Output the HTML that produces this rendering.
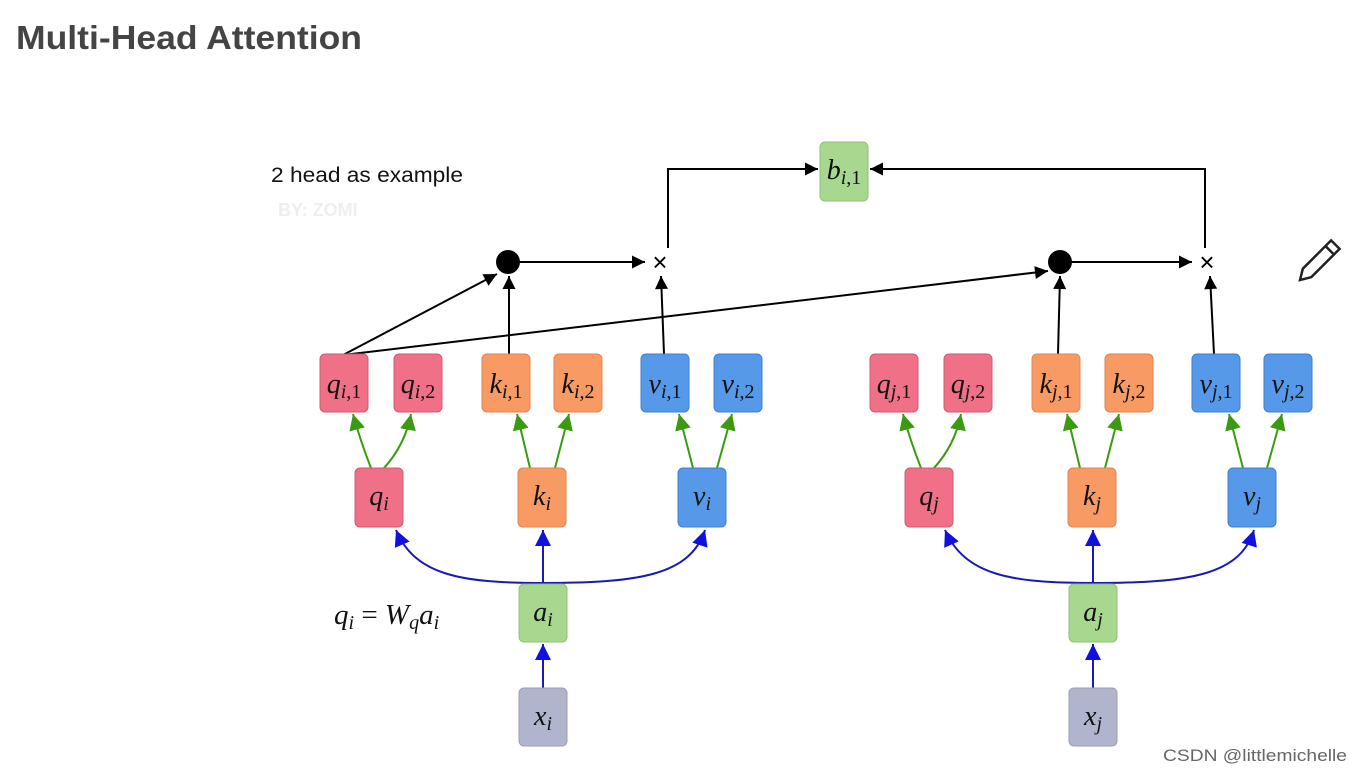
<!DOCTYPE html>
<html><head><meta charset="utf-8"><style>
body{margin:0;background:#fff;width:1361px;height:771px;overflow:hidden;font-family:"Liberation Sans",sans-serif}
.t{font-family:"Liberation Serif",serif;font-style:italic;fill:#111}
</style></head><body>
<svg width="1361" height="771" viewBox="0 0 1361 771" xmlns="http://www.w3.org/2000/svg">
<defs>
<marker id="k" viewBox="0 0 10 10" markerWidth="18" markerHeight="13" refX="10" refY="5" orient="auto" markerUnits="userSpaceOnUse"><path d="M0,0 L10,5 L0,10 z" fill="#000"/></marker>
<marker id="g" viewBox="0 0 10 10" markerWidth="16" markerHeight="16" refX="10" refY="5" orient="auto" markerUnits="userSpaceOnUse"><path d="M0,0 L10,5 L0,10 z" fill="#3a9a10"/></marker>
<marker id="b" viewBox="0 0 10 10" markerWidth="16" markerHeight="16" refX="10" refY="5" orient="auto" markerUnits="userSpaceOnUse"><path d="M0,0 L10,5 L0,10 z" fill="#1010e0"/></marker>
</defs>
<text x="16" y="49" font-family="Liberation Sans" font-weight="bold" font-size="33" fill="#444" textLength="346" lengthAdjust="spacingAndGlyphs">Multi-Head Attention</text>
<text x="271" y="182" font-size="21" fill="#111" textLength="192" lengthAdjust="spacingAndGlyphs">2 head as example</text>
<text x="278" y="216" font-size="18" font-weight="bold" fill="#eee">BY: ZOMI</text>
<text x="1163" y="761" font-size="17" fill="#666" textLength="184" lengthAdjust="spacingAndGlyphs">CSDN @littlemichelle</text>
<g transform="translate(1300,280) rotate(-45)" stroke="#222" stroke-width="2.5" fill="#fff"><path d="M0,0 L10,-6 L50,-6 L50,6 L10,6 Z"/><line x1="42" y1="-6" x2="42" y2="6"/></g>
<g stroke="#000" stroke-width="2" fill="none">
<line x1="343" y1="355" x2="497" y2="274" marker-end="url(#k)"/>
<line x1="343" y1="355" x2="1048" y2="271" marker-end="url(#k)"/>
<line x1="509" y1="354" x2="509" y2="276" marker-end="url(#k)"/>
<line x1="664" y1="354" x2="661" y2="276" marker-end="url(#k)"/>
<line x1="520" y1="262" x2="645" y2="262" marker-end="url(#k)"/>
<line x1="1058" y1="354" x2="1060" y2="276" marker-end="url(#k)"/>
<line x1="1214" y1="354" x2="1210" y2="276" marker-end="url(#k)"/>
<line x1="1072" y1="262" x2="1192" y2="262" marker-end="url(#k)"/>
<polyline points="668,248 668,169 818,169" marker-end="url(#k)"/>
<polyline points="1205,248 1205,169 870,169" marker-end="url(#k)"/>
</g>
<circle cx="508" cy="262" r="12" fill="#000"/>
<circle cx="1060" cy="262" r="12" fill="#000"/>
<text x="660" y="271" font-size="26" text-anchor="middle" fill="#000">×</text>
<text x="1207" y="271" font-size="26" text-anchor="middle" fill="#000">×</text>
<g stroke="#3a9a10" stroke-width="2" fill="none">
<path d="M371,468 Q360,440 353,414" marker-end="url(#g)"/><path d="M384,468 Q405,445 411,414" marker-end="url(#g)"/>
<path d="M530,468 L517,414" marker-end="url(#g)"/><path d="M555,468 L569,414" marker-end="url(#g)"/>
<path d="M693,468 L679,414" marker-end="url(#g)"/><path d="M717,468 L732,414" marker-end="url(#g)"/>
<path d="M921,468 Q910,440 903,414" marker-end="url(#g)"/><path d="M934,468 Q955,445 961,414" marker-end="url(#g)"/>
<path d="M1080,468 L1067,414" marker-end="url(#g)"/><path d="M1105,468 L1119,414" marker-end="url(#g)"/>
<path d="M1243,468 L1229,414" marker-end="url(#g)"/><path d="M1267,468 L1282,414" marker-end="url(#g)"/>
</g>
<g stroke="#1a1ab0" stroke-width="2" fill="none">
<path d="M543,583 C460,583 415,575 396,530" marker-end="url(#b)"/>
<path d="M543,583 C640,583 690,575 705,530" marker-end="url(#b)"/>
<path d="M543,584 L543,530" marker-end="url(#b)"/>
<path d="M543,688 L543,644" marker-end="url(#b)"/>
<path d="M1093,583 C1010,583 965,575 945,530" marker-end="url(#b)"/>
<path d="M1093,583 C1190,583 1240,575 1254,530" marker-end="url(#b)"/>
<path d="M1093,584 L1093,530" marker-end="url(#b)"/>
<path d="M1093,688 L1093,644" marker-end="url(#b)"/>
</g>
<g stroke-width="1">
<g fill="#f07088" stroke="#d05a70">
<rect x="320" y="354" width="48" height="58" rx="5"/><rect x="394" y="354" width="48" height="58" rx="5"/><rect x="355" y="468" width="48" height="59" rx="5"/>
<rect x="870" y="354" width="48" height="58" rx="5"/><rect x="944" y="354" width="48" height="58" rx="5"/><rect x="905" y="468" width="48" height="59" rx="5"/>
</g>
<g fill="#f89a64" stroke="#e08450">
<rect x="482" y="354" width="48" height="58" rx="5"/><rect x="554" y="354" width="48" height="58" rx="5"/><rect x="518" y="468" width="48" height="59" rx="5"/>
<rect x="1032" y="354" width="48" height="58" rx="5"/><rect x="1105" y="354" width="48" height="58" rx="5"/><rect x="1068" y="468" width="48" height="59" rx="5"/>
</g>
<g fill="#5599e8" stroke="#4080d0">
<rect x="641" y="354" width="48" height="58" rx="5"/><rect x="714" y="354" width="48" height="58" rx="5"/><rect x="678" y="468" width="48" height="59" rx="5"/>
<rect x="1192" y="354" width="48" height="58" rx="5"/><rect x="1264" y="354" width="48" height="58" rx="5"/><rect x="1228" y="468" width="48" height="59" rx="5"/>
</g>
<g fill="#a8d890" stroke="#90c078">
<rect x="519" y="584" width="48" height="58" rx="5"/><rect x="1069" y="584" width="48" height="58" rx="5"/><rect x="820" y="142" width="48" height="59" rx="5"/>
</g>
<g fill="#b0b4cc" stroke="#9a9eb6">
<rect x="519" y="688" width="48" height="58" rx="5"/><rect x="1069" y="688" width="48" height="58" rx="5"/>
</g>
</g>
<g class="t" font-size="28" text-anchor="middle">
<text x="344" y="393">q<tspan font-size="20" dy="5">i</tspan><tspan font-size="20" font-style="normal">,1</tspan></text>
<text x="418" y="393">q<tspan font-size="20" dy="5">i</tspan><tspan font-size="20" font-style="normal">,2</tspan></text>
<text x="506" y="393">k<tspan font-size="20" dy="5">i</tspan><tspan font-size="20" font-style="normal">,1</tspan></text>
<text x="578" y="393">k<tspan font-size="20" dy="5">i</tspan><tspan font-size="20" font-style="normal">,2</tspan></text>
<text x="665" y="393">v<tspan font-size="20" dy="5">i</tspan><tspan font-size="20" font-style="normal">,1</tspan></text>
<text x="738" y="393">v<tspan font-size="20" dy="5">i</tspan><tspan font-size="20" font-style="normal">,2</tspan></text>
<text x="894" y="393">q<tspan font-size="20" dy="5">j</tspan><tspan font-size="20" font-style="normal">,1</tspan></text>
<text x="968" y="393">q<tspan font-size="20" dy="5">j</tspan><tspan font-size="20" font-style="normal">,2</tspan></text>
<text x="1056" y="393">k<tspan font-size="20" dy="5">j</tspan><tspan font-size="20" font-style="normal">,1</tspan></text>
<text x="1129" y="393">k<tspan font-size="20" dy="5">j</tspan><tspan font-size="20" font-style="normal">,2</tspan></text>
<text x="1216" y="393">v<tspan font-size="20" dy="5">j</tspan><tspan font-size="20" font-style="normal">,1</tspan></text>
<text x="1288" y="393">v<tspan font-size="20" dy="5">j</tspan><tspan font-size="20" font-style="normal">,2</tspan></text>
<text x="379" y="505">q<tspan font-size="20" dy="5">i</tspan></text>
<text x="542" y="505">k<tspan font-size="20" dy="5">i</tspan></text>
<text x="702" y="505">v<tspan font-size="20" dy="5">i</tspan></text>
<text x="929" y="505">q<tspan font-size="20" dy="5">j</tspan></text>
<text x="1092" y="505">k<tspan font-size="20" dy="5">j</tspan></text>
<text x="1252" y="505">v<tspan font-size="20" dy="5">j</tspan></text>
<text x="543" y="621">a<tspan font-size="20" dy="5">i</tspan></text>
<text x="1093" y="621">a<tspan font-size="20" dy="5">j</tspan></text>
<text x="543" y="725">x<tspan font-size="20" dy="5">i</tspan></text>
<text x="1093" y="725">x<tspan font-size="20" dy="5">j</tspan></text>
<text x="844" y="179">b<tspan font-size="20" dy="5">i</tspan><tspan font-size="20" font-style="normal">,1</tspan></text>
</g>
<text class="t" x="334" y="624" font-size="29">q<tspan font-size="20" dy="5">i</tspan><tspan dy="-5" font-style="normal"> = </tspan>W<tspan font-size="20" dy="5">q</tspan><tspan dy="-5">a</tspan><tspan font-size="20" dy="5">i</tspan></text>
</svg>
</body></html>
